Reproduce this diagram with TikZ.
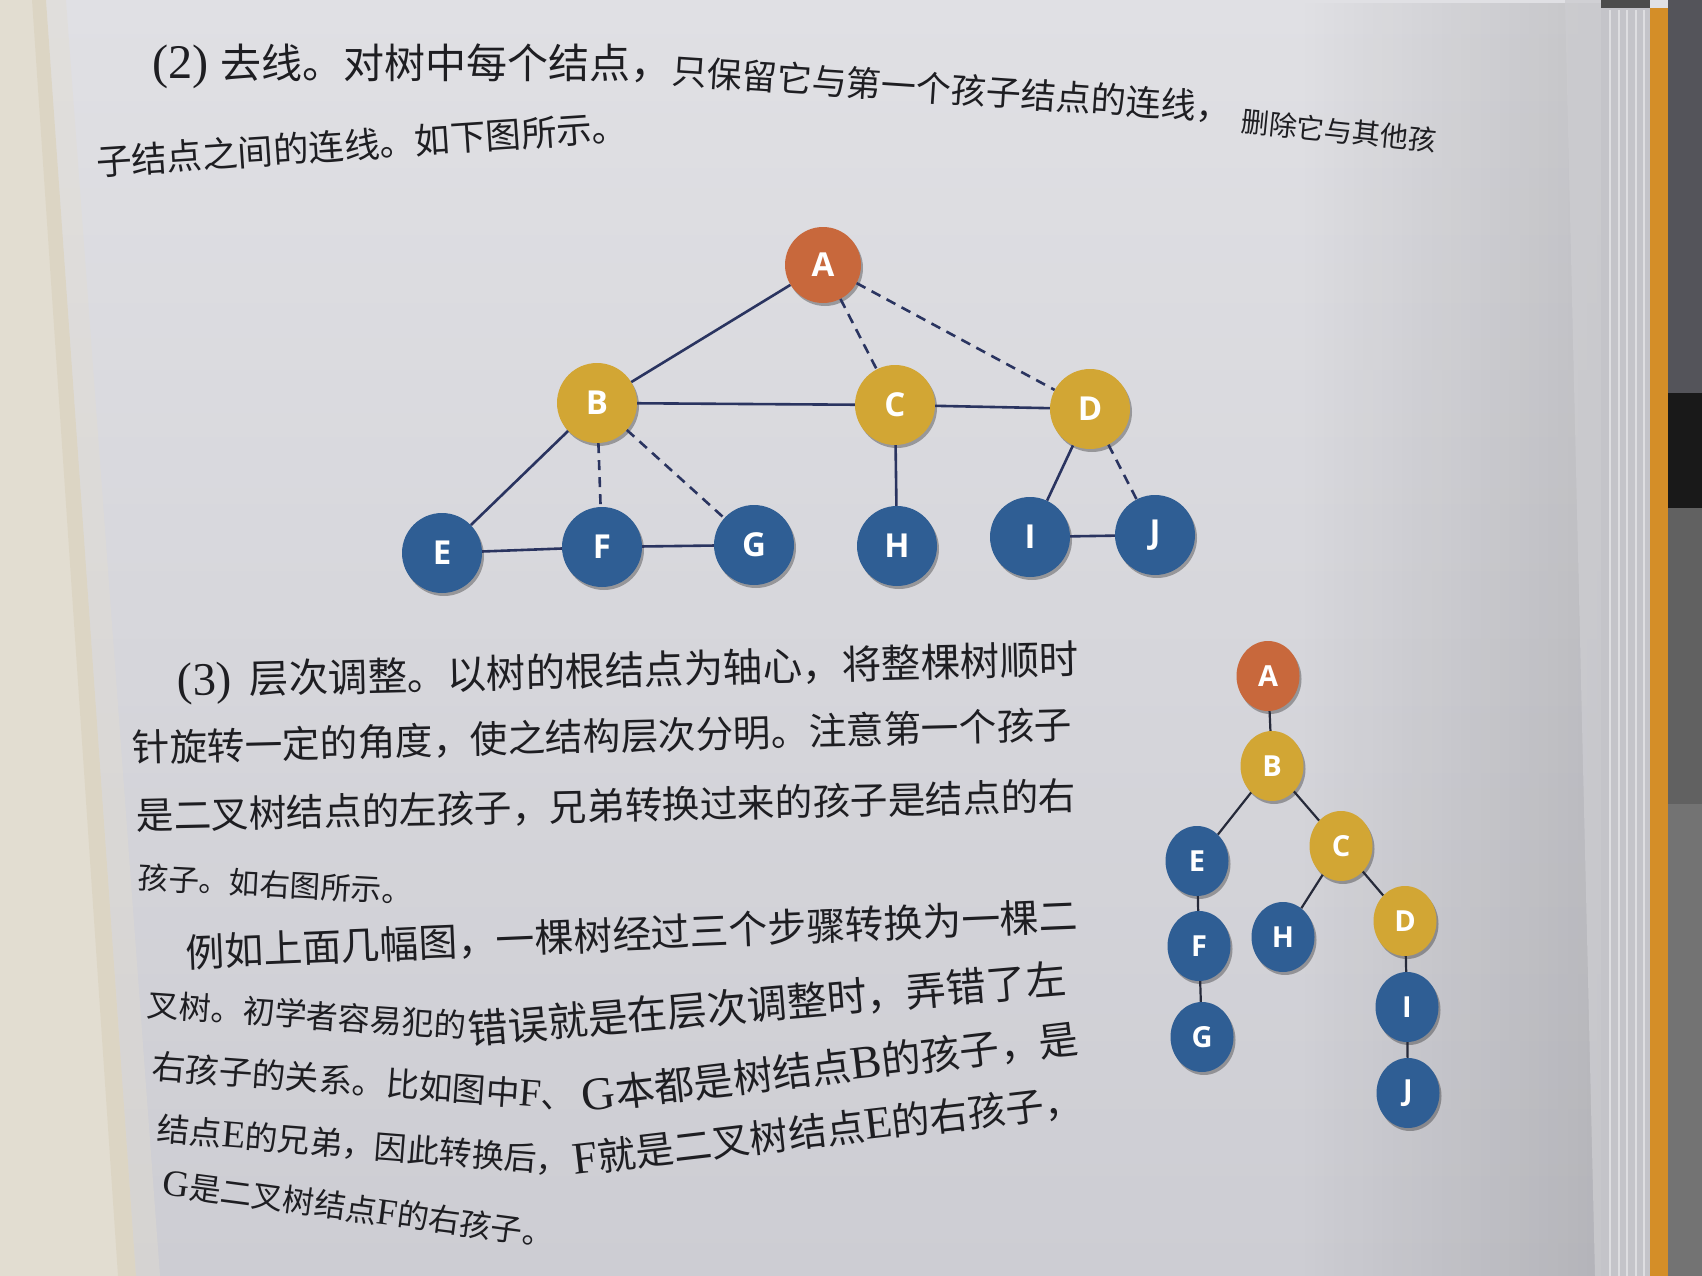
\documentclass[tikz,border=0pt]{standalone}
\usepackage{fontspec}
\setmainfont{Liberation Serif}
\newfontfamily\cjk{Noto Sans CJK SC}
\newfontfamily\nodef{Open Sans}
\newfontfamily\latf{Liberation Serif}[Scale=1.18]
\usetikzlibrary{shapes.geometric,shadows,fadings}
\definecolor{pagetop}{RGB}{224,224,228}
\definecolor{pagebot}{RGB}{205,205,211}
\definecolor{creamc}{RGB}{226,221,209}
\definecolor{foldc}{RGB}{214,205,182}
\definecolor{stackc}{RGB}{196,196,201}
\definecolor{curlc}{RGB}{204,204,208}
\definecolor{orangeb}{RGB}{212,142,40}
\definecolor{darkbg}{RGB}{84,84,90}
\definecolor{cA}{RGB}{200,104,60}
\definecolor{cGold}{RGB}{210,166,52}
\definecolor{cBlue}{RGB}{47,94,148}
\definecolor{edgec}{RGB}{42,52,96}
\definecolor{edgeb}{RGB}{38,42,58}
\definecolor{textc}{RGB}{30,30,34}
\newcommand\latn[1]{{\latf #1}}
\tikzset{
  tone/.style={circle, minimum size=80pt, inner sep=0pt, text=white,
    font=\nodef\bfseries\fontsize{33}{33}\selectfont,
    drop shadow={shadow xshift=2pt, shadow yshift=-3pt, opacity=.3, fill=black}},
  ttwo/.style={ellipse, minimum width=63pt, minimum height=70pt, inner sep=0pt, text=white,
    font=\nodef\bfseries\fontsize{29}{29}\selectfont,
    drop shadow={shadow xshift=2pt, shadow yshift=-3pt, opacity=.3, fill=black}},
  eone/.style={draw=edgec, line width=2.6pt},
  dashone/.style={eone, dash pattern=on 10pt off 7pt},
  etwo/.style={draw=edgeb, line width=2.2pt},
  txt/.style={anchor=west, inner sep=0pt, text=textc},
}
\begin{document}
\begin{tikzpicture}[x=1pt,y=-1pt]
\useasboundingbox (0,0) rectangle (1702,1276);
% page background
\shade[top color=pagetop, bottom color=pagebot] (0,0) rectangle (1702,1276);
\fill[black, opacity=.12, path fading=west] (1300,0) rectangle (1601,1276);
% left page (cream) and fold
\fill[creamc] (0,0) -- (46,0) -- (136,1276) -- (0,1276) -- cycle;
\fill[foldc, opacity=.45] (32,0) -- (46,0) -- (136,1276) -- (118,1276) -- cycle;
\fill[creamc, opacity=.4] (46,0) -- (66,0) -- (160,1276) -- (136,1276) -- cycle;
% right side: page edge, stack, cover, dark background
\fill[curlc, opacity=.8] (1565,0) -- (1601,0) -- (1601,1276) -- (1595,1276) -- cycle;
\fill[stackc] (1601,0) rectangle (1650,1276);
\foreach \sx in {1610,1619,1627,1636,1644}{\draw[white, opacity=.45, line width=1.5pt] (\sx,10) -- (\sx,1276);}
\fill[orangeb] (1650,8) rectangle (1668,1276);
\fill[darkbg] (1668,0) rectangle (1702,1276);
\fill[black!90] (1668,393) rectangle (1702,508);
\fill[black!62] (1668,508) rectangle (1702,804);
\fill[black!55] (1668,804) rectangle (1702,1276);
\fill[black!70] (1601,0) rectangle (1650,8);

% paragraph (2)
\node[txt, font=\cjk\fontsize{41}{41}\selectfont] (l1a) at (152,66) {\latn{(2)}\kern12pt 去线。对树中每个结点，};
\node[txt, font=\cjk\fontsize{35}{35}\selectfont, rotate=-3.8] (l1b) at (672,71) {只保留它与第一个孩子结点的连线，};
\node[txt, font=\cjk\fontsize{28}{28}\selectfont, rotate=-5.7] (l1c) at (1241,121) {删除它与其他孩};
\node[txt, font=\cjk\fontsize{35.5}{35.5}\selectfont, rotate=3.8] (l2) at (96,162) {子结点之间的连线。如下图所示。};

% tree 1
\node[tone, fill=cA, minimum size=76pt] (A) at (823,265) {A};
\node[tone, fill=cGold] (B) at (597,403) {B};
\node[tone, fill=cGold] (C) at (895,405) {C};
\node[tone, fill=cGold] (D) at (1090,409) {D};
\node[tone, fill=cBlue] (E) at (442,553) {E};
\node[tone, fill=cBlue] (F) at (602,547) {F};
\node[tone, fill=cBlue] (G) at (754,545) {G};
\node[tone, fill=cBlue] (H) at (897,546) {H};
\node[tone, fill=cBlue] (I) at (1030,537) {I};
\node[tone, fill=cBlue] (J) at (1155,535) {J};
\draw[eone] (A) -- (B);
\draw[dashone] (A) -- (C);
\draw[dashone] (A) -- (D);
\draw[eone] (B) -- (C);
\draw[eone] (C) -- (D);
\draw[eone] (B) -- (E);
\draw[dashone] (B) -- (F);
\draw[dashone] (B) -- (G);
\draw[eone] (E) -- (F);
\draw[eone] (F) -- (G);
\draw[eone] (C) -- (H);
\draw[eone] (D) -- (I);
\draw[dashone] (D) -- (J);
\draw[eone] (I) -- (J);

% paragraph (3)
\node[txt, font=\cjk\fontsize{39.5}{39.5}\selectfont, rotate=1.4] (p1) at (177,684) {\latn{(3)}\kern18pt 层次调整。以树的根结点为轴心，将整棵树顺时};
\node[txt, font=\cjk\fontsize{37.6}{37.6}\selectfont, rotate=1.4] (p2) at (132,748) {针旋转一定的角度，使之结构层次分明。注意第一个孩子};
\node[txt, font=\cjk\fontsize{37.6}{37.6}\selectfont, rotate=1.2] (p3) at (136,816) {是二叉树结点的左孩子，兄弟转换过来的孩子是结点的右};
\node[txt, font=\cjk\fontsize{30.5}{30.5}\selectfont, rotate=-3] (p4) at (138,877) {孩子。如右图所示。};
\node[txt, font=\cjk\fontsize{38.8}{38.8}\selectfont, rotate=2.4] (p5) at (186,953) {例如上面几幅图，一棵树经过三个步骤转换为一棵二};
\node[txt, font=\cjk\fontsize{32}{32}\selectfont, rotate=-3.9] (p6a) at (147,1004) {叉树。初学者容易犯的};
\node[txt, font=\cjk\fontsize{40}{40}\selectfont, rotate=4.9] (p6b) at (468,1030) {错误就是在层次调整时，弄错了左};
\node[txt, font=\cjk\fontsize{33.5}{33.5}\selectfont, rotate=-4.2] (p7a) at (152,1066) {右孩子的关系。比如图中\latn{F}、};
\node[txt, font=\cjk\fontsize{39.5}{39.5}\selectfont, rotate=6.8] (p7b) at (582,1097) {\latn{G}本都是树结点\latn{B}的孩子，是};
\node[txt, font=\cjk\fontsize{32.5}{32.5}\selectfont, rotate=-4.6] (p8a) at (157,1129) {结点\latn{E}的兄弟，因此转换后，};
\node[txt, font=\cjk\fontsize{38.3}{38.3}\selectfont, rotate=6.7] (p8b) at (573,1160) {\latn{F}就是二叉树结点\latn{E}的右孩子，};
\node[txt, font=\cjk\fontsize{31.5}{31.5}\selectfont, rotate=-7.5] (p9) at (163,1183) {\latn{G}是二叉树结点\latn{F}的右孩子。};

% tree 2
\node[ttwo, fill=cA] (A2) at (1268,676) {A};
\node[ttwo, fill=cGold] (B2) at (1272,766) {B};
\node[ttwo, fill=cBlue] (E2) at (1197,861) {E};
\node[ttwo, fill=cGold] (C2) at (1341,846) {C};
\node[ttwo, fill=cBlue] (F2) at (1199,946) {F};
\node[ttwo, fill=cBlue] (H2) at (1283,937) {H};
\node[ttwo, fill=cGold] (D2) at (1405,921) {D};
\node[ttwo, fill=cBlue] (G2) at (1202,1037) {G};
\node[ttwo, fill=cBlue] (I2) at (1407,1007) {I};
\node[ttwo, fill=cBlue] (J2) at (1408,1093) {J};
\draw[etwo] (A2) -- (B2);
\draw[etwo] (B2) -- (E2);
\draw[etwo] (B2) -- (C2);
\draw[etwo] (E2) -- (F2);
\draw[etwo] (F2) -- (G2);
\draw[etwo] (C2) -- (H2);
\draw[etwo] (C2) -- (D2);
\draw[etwo] (D2) -- (I2);
\draw[etwo] (I2) -- (J2);
\end{tikzpicture}
\end{document}
